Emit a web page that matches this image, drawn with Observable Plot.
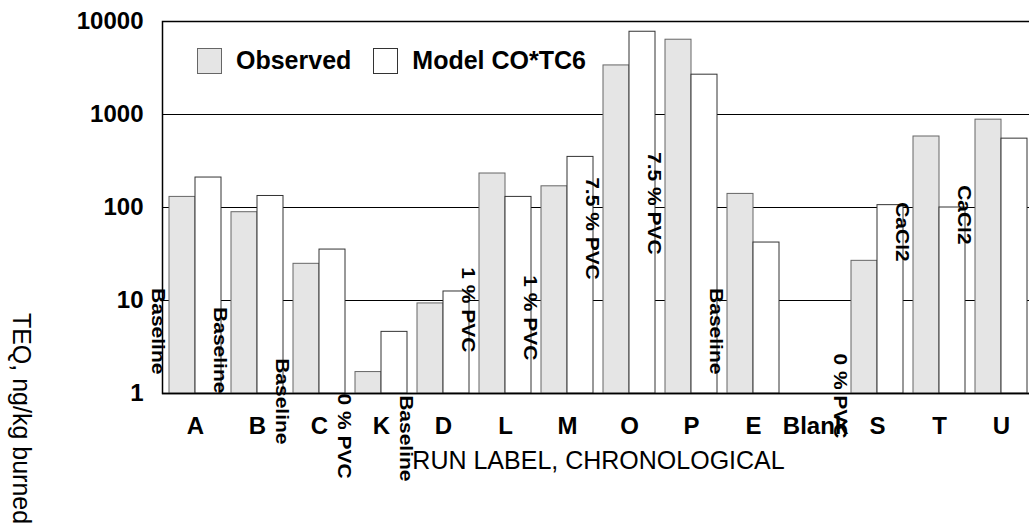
<!DOCTYPE html>
<html>
<head>
<meta charset="utf-8">
<script src="https://cdn.jsdelivr.net/npm/d3@7"></script>
<script src="https://cdn.jsdelivr.net/npm/@observablehq/plot@0.6"></script>
<style>
  html, body { margin: 0; padding: 0; background: #fff; overflow: hidden; }
  #wrap { position: relative; width: 1040px; height: 529px; font-family: "Liberation Sans", Arial, sans-serif; }
  #legend { position: absolute; left: 197px; top: 46px; display: flex; align-items: center; font-weight: bold; font-size: 25px; color: #000; }
  .sw { width: 25px; height: 26px; box-sizing: border-box; }
  .obs { background: #e5e5e5; border: 1px solid #666; margin-right: 14px; }
  .mod { background: #fff; border: 1px solid #333; margin-left: 22px; margin-right: 14px; }
</style>
</head>
<body>
<div id="wrap">
  <div id="chart"></div>
  <div id="legend"><div class="sw obs"></div><span>Observed</span><div class="sw mod"></div><span>Model CO*TC6</span></div>
</div>
<script>
// Run labels, chronological
const runs = ["A", "B", "C", "K", "D", "L", "M", "O", "P", "E", "Blank", "S", "T", "U"];
// TEQ, ng/kg burned
const observed = [130, 89, 24.8, 1.7, 9.3, 232, 169, 3370, 6370, 140, null, 26.7, 580, 880];
const modelCOTC6 = [210, 133, 35.3, 4.6, 12.5, 130, 350, 7760, 2680, 42, null, 106, 100, 550];
// Run condition notes and the value level where each note begins
const notes = ["Baseline", "Baseline", "Baseline", "0 % PVC", "Baseline", "1 % PVC", "1 % PVC", "7.5 % PVC", "7.5 % PVC", "Baseline", "", "0 % PVC", "CaCl2", "CaCl2"];
const noteAt = [13.6, 8.5, 2.4, 1.0, 0.96, 22.8, 18.7, 212, 394, 13.6, null, 2.7, 114, 174];
const yTicks = [1, 10, 100, 1000, 10000];
const gridLevels = [10, 100, 1000];
const xTitle = "RUN LABEL, CHRONOLOGICAL";
const yTitle = "TEQ, ng/kg burned";

const rows = runs.map((run, i) => ({run, observed: observed[i], model: modelCOTC6[i], note: notes[i], noteAt: noteAt[i]}));

const font = "'Liberation Sans', Arial, sans-serif";

const chart = Plot.plot({
  width: 1040,
  height: 529,
  marginTop: 21,
  marginBottom: 136,
  marginLeft: 162,
  marginRight: 6,
  style: {fontFamily: font, color: "#000", background: "#fff", overflow: "visible"},
  x: {domain: runs, paddingInner: 0.165, paddingOuter: 0.0825},
  y: {type: "log", domain: [1, 10000]},
  marks: [
    Plot.ruleY(gridLevels, {stroke: "#000", strokeWidth: 1.2}),
    Plot.frame({stroke: "#000", strokeWidth: 1.5}),
    Plot.barY(rows.filter(d => d.observed != null), {x: "run", y1: 1, y2: "observed", fill: "#e5e5e5", stroke: "#666", strokeWidth: 1, insetRight: 26}),
    Plot.barY(rows.filter(d => d.model != null), {x: "run", y1: 1, y2: "model", fill: "#fff", stroke: "#333", strokeWidth: 1, insetLeft: 26}),
    Plot.ruleY([1], {stroke: "#000", strokeWidth: 1.5}),
    Plot.text(rows.filter(d => d.note), {x: "run", y: "noteAt", text: "note", rotate: 90, textAnchor: "start", dx: -38, fontSize: 17.5, fontWeight: "bold", fill: "#000"}),
    Plot.axisX({tickSize: 0, tickPadding: 23, fontSize: 24, fontWeight: "bold", label: null}),
    Plot.axisY({ticks: yTicks, tickSize: 0, tickPadding: 19, tickFormat: d => String(d), fontSize: 24, fontWeight: "bold", label: null}),
    Plot.text([xTitle], {frameAnchor: "bottom", dy: 75, fontSize: 25, text: d => d}),
    Plot.text([yTitle], {frameAnchor: "left", rotate: 90, textAnchor: "middle", dx: -142, dy: 211, fontSize: 25, text: d => d})
  ]
});

// stretch the rotated note labels along their reading direction
const noteSet = new Set(notes.filter(n => n));
d3.select(chart).selectAll("text").each(function() {
  const t = this.getAttribute("transform") || "";
  if (noteSet.has(this.textContent) && t.includes("rotate(90)")) {
    this.setAttribute("transform", t + " scale(1.2,1)");
  }
});

document.getElementById("chart").append(chart);
</script>
</body>
</html>
